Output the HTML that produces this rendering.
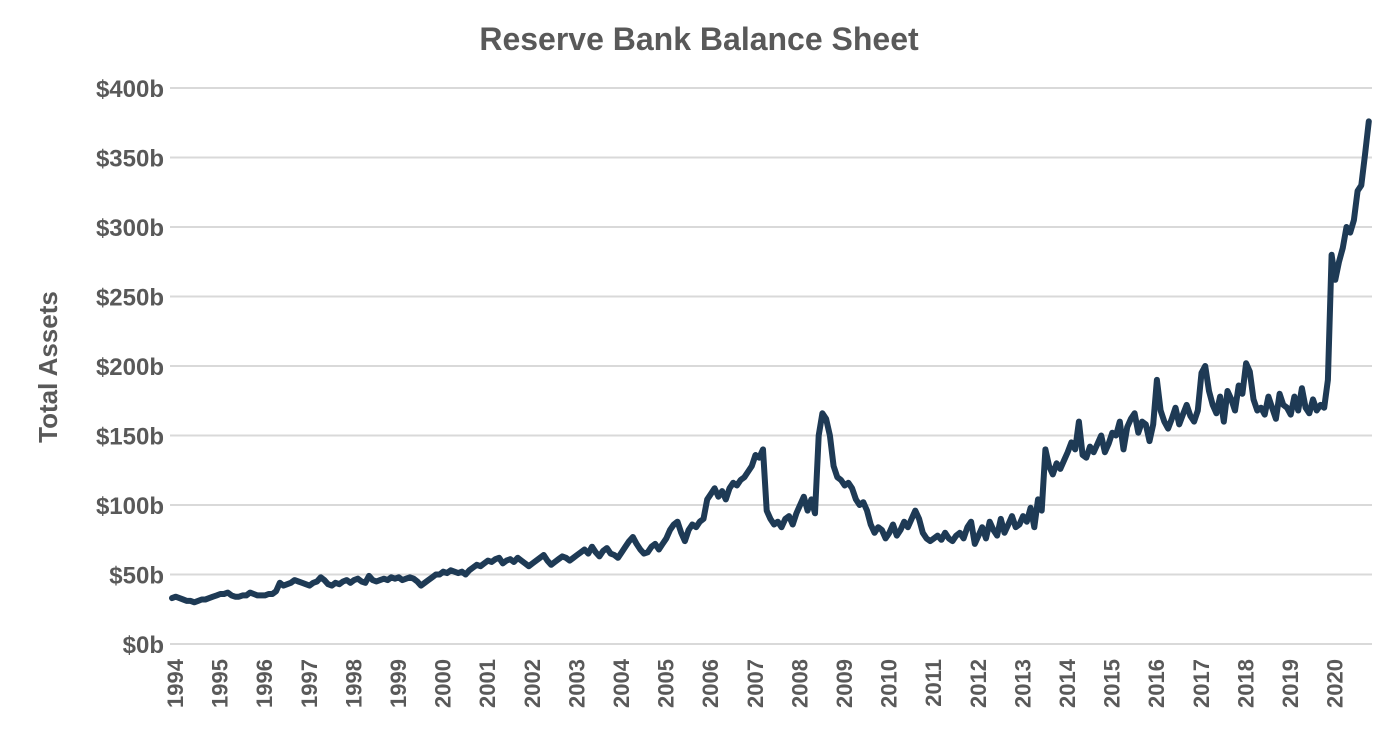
<!DOCTYPE html>
<html><head><meta charset="utf-8"><style>
html,body{margin:0;padding:0;background:#fff;}
svg{display:block;font-family:"Liberation Sans",Arial,sans-serif;}
</style></head><body>
<svg id="chart" width="1400" height="738" viewBox="0 0 1400 738">
<text x="699" y="50" text-anchor="middle" font-size="32" font-weight="bold" fill="#595959">Reserve Bank Balance Sheet</text>
<text transform="translate(57,367) rotate(-90)" text-anchor="middle" font-size="26" font-weight="bold" fill="#595959">Total Assets</text>
<g id="grid"></g>
<g id="yticks"></g>
<g id="xticks"></g>
<path id="line" fill="none" stroke="#1e3a55" stroke-width="6" stroke-linejoin="round" stroke-linecap="round"></path>
</svg>
<script>
const yTickValues = [0,50,100,150,200,250,300,350,400];
const yearLabels = [1994,1995,1996,1997,1998,1999,2000,2001,2002,2003,2004,2005,2006,2007,2008,2009,2010,2011,2012,2013,2014,2015,2016,2017,2018,2019,2020];
const startYear = 1994;
const values = [
33,34,33,32,31,31,30,31,32,32,33,34,
35,36,36,37,35,34,34,35,35,37,36,35,
35,35,36,36,38,44,42,43,44,46,45,44,
43,42,44,45,48,46,43,42,44,43,45,46,
44,46,47,45,44,49,46,45,46,47,46,48,
47,48,46,47,48,47,45,42,44,46,48,50,
50,52,51,53,52,51,52,50,53,55,57,56,
58,60,59,61,62,58,60,61,59,62,60,58,
56,58,60,62,64,60,57,59,61,63,62,60,
62,64,66,68,65,70,66,63,67,69,65,64,
62,66,70,74,77,72,68,65,66,70,72,68,
72,76,82,86,88,80,74,82,86,84,88,90,
104,108,112,106,110,104,112,116,114,118,120,124,
128,136,134,140,96,90,86,88,84,90,92,86,
94,100,106,96,104,94,150,166,162,150,128,120,
118,114,116,112,104,100,102,96,86,80,84,82,
76,80,86,78,82,88,84,90,96,90,80,76,
74,76,78,75,80,76,74,78,80,76,84,88,
72,78,84,76,88,82,78,90,80,86,92,84,
86,92,88,98,84,104,96,140,128,122,130,126,
132,138,145,140,160,136,134,142,138,144,150,138,
144,152,150,160,140,156,162,166,152,160,158,146,
158,190,168,160,155,162,170,158,165,172,164,160,
168,195,200,182,172,166,178,160,182,176,168,186,
180,202,196,176,168,170,165,178,170,162,180,172,
170,165,178,168,184,170,166,176,168,172,170,190,
280,262,275,285,300,296,305,326,330,352,376
];
const X0=172, YEARW=44.6, Y0=644, Y400=88, RIGHT=1372;
const xScale = t => X0 + (t - startYear) * YEARW;
const yScale = v => Y0 - v * (Y0 - Y400) / 400;
const NS="http://www.w3.org/2000/svg";
const grid=document.getElementById('grid'), yt=document.getElementById('yticks'), xt=document.getElementById('xticks');
yTickValues.forEach(v=>{
  const l=document.createElementNS(NS,'line');
  l.setAttribute('x1',X0-2);l.setAttribute('x2',RIGHT);
  l.setAttribute('y1',yScale(v));l.setAttribute('y2',yScale(v));
  l.setAttribute('stroke','#d9d9d9');l.setAttribute('stroke-width','2');
  
  
  grid.appendChild(l);
  const t=document.createElementNS(NS,'text');
  t.setAttribute('x',164);t.setAttribute('y',yScale(v)+9);
  t.setAttribute('text-anchor','end');t.setAttribute('font-size','24');
  t.setAttribute('font-weight','bold');t.setAttribute('fill','#595959');
  t.textContent='$'+v+'b';
  
  
  yt.appendChild(t);
});
yearLabels.forEach(y=>{
  const t=document.createElementNS(NS,'text');
  const x=xScale(y)+3;
  t.setAttribute('transform','translate('+(x+8)+',659) rotate(-90)');
  t.setAttribute('text-anchor','end');t.setAttribute('font-size','22');
  t.setAttribute('font-weight','bold');t.setAttribute('fill','#595959');
  t.textContent=y;
  
  
  xt.appendChild(t);
});
let d='';
values.forEach((v,i)=>{const t=startYear+i/12;d+=(i?'L':'M')+xScale(t).toFixed(1)+' '+yScale(v).toFixed(1);});
document.getElementById('line').setAttribute('d',d);
</script>
</body></html>
